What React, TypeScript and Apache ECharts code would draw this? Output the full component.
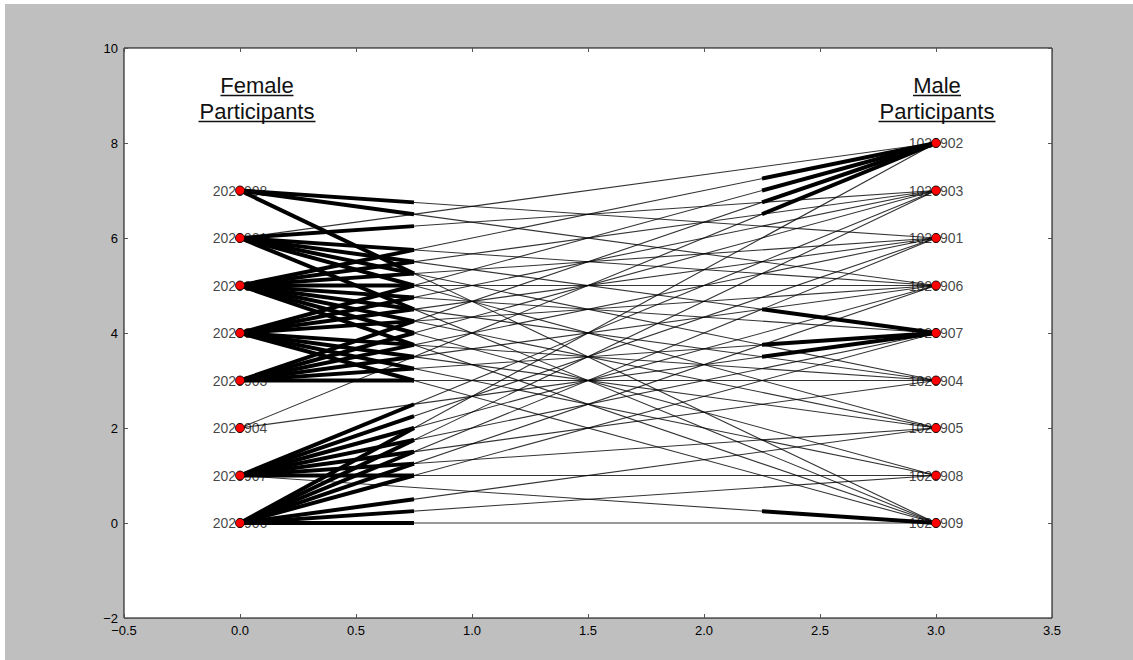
import React, { useEffect, useRef } from "react";
import * as echarts from "echarts";

// Participant ids, indexed by their y position
const femaleIds = ["2020906", "2020907", "2020904", "2020903", "2020905", "2020902", "2020901", "2020908"];
const maleIds = ["1020909", "1020908", "1020905", "1020904", "1020907", "1020906", "1020901", "1020903", "1020902"];

// Edges: [female index, male index, female-side emphasis (1/0), male-side emphasis (1/0)]
const edges: number[][] = [
  [7, 6, 1, 0], [7, 5, 1, 0], [7, 0, 1, 0],
  [6, 8, 0, 0], [6, 7, 1, 0], [6, 5, 1, 0], [6, 4, 1, 1], [6, 3, 1, 0], [6, 2, 1, 0], [6, 0, 1, 0],
  [5, 8, 1, 1], [5, 7, 1, 0], [5, 6, 1, 0], [5, 5, 1, 0], [5, 4, 1, 0], [5, 3, 1, 0], [5, 2, 1, 0], [5, 1, 1, 0], [5, 0, 1, 0],
  [4, 8, 1, 1], [4, 7, 1, 0], [4, 6, 1, 0], [4, 5, 1, 0], [4, 3, 1, 0], [4, 2, 1, 0], [4, 1, 1, 0], [4, 0, 1, 0],
  [3, 8, 1, 1], [3, 7, 1, 0], [3, 6, 1, 0], [3, 5, 1, 0], [3, 4, 1, 1], [3, 3, 1, 0],
  [2, 8, 0, 1], [2, 4, 0, 1],
  [1, 7, 1, 0], [1, 6, 1, 0], [1, 5, 1, 0], [1, 4, 1, 0], [1, 3, 1, 0], [1, 2, 1, 0], [1, 1, 1, 0], [1, 0, 0, 1],
  [0, 8, 1, 0], [0, 7, 1, 0], [0, 6, 1, 0], [0, 5, 1, 0], [0, 4, 1, 0], [0, 2, 1, 0], [0, 1, 1, 0], [0, 0, 1, 0],
];

const femaleX = 0;
const maleX = 3;
const xRange = [-0.5, 3.5];
const yRange = [-2, 10];

const FONT = '"Liberation Sans", Arial, sans-serif';

const minus = (s: string) => s.replace("-", "\u2212");

export default function App() {
  const ref = useRef<HTMLDivElement>(null);

  useEffect(() => {
    const chart = echarts.init(ref.current!, null, { renderer: "svg" });

    const labelData = [
      ...femaleIds.map((id, i) => [femaleX, i, id]),
      ...maleIds.map((id, i) => [maleX, i, id]),
    ];
    const dotData = [
      ...femaleIds.map((_, i) => [femaleX, i]),
      ...maleIds.map((_, i) => [maleX, i]),
    ];

    const tickCommon = { inside: true, length: 4, lineStyle: { color: "#555", width: 1 } };
    const hiddenLine = { show: false, onZero: false };

    const titleText = (x: number, y: number, text: string) => ({
      type: "text",
      x,
      y,
      z: 10,
      style: {
        text,
        fill: "#111",
        font: `22px ${FONT}`,
        align: "center",
        verticalAlign: "middle",
        textAlign: "center",
        textVerticalAlign: "middle",
      },
    });
    const underline = (cx: number, y: number, w: number) => ({
      type: "line",
      z: 10,
      shape: { x1: cx - w / 2, y1: y, x2: cx + w / 2, y2: y },
      style: { stroke: "#111", lineWidth: 1.5 },
    });

    const axisLabelStyle = {
      color: "#000",
      fontSize: 13,
      fontFamily: FONT,
      margin: 6,
      showMinLabel: true,
      showMaxLabel: true,
    };

    chart.setOption({
      animation: false,
      backgroundColor: "#bfbfbf",
      grid: {
        left: 124,
        right: 81,
        top: 48,
        bottom: 42,
        show: true,
        backgroundColor: "#ffffff",
        borderColor: "#000",
        borderWidth: 1,
      },
      xAxis: [
        {
          type: "value",
          min: xRange[0],
          max: xRange[1],
          interval: 0.5,
          axisLine: hiddenLine,
          splitLine: { show: false },
          axisTick: tickCommon,
          axisLabel: { ...axisLabelStyle, formatter: (v: number) => minus(v.toFixed(1)) },
        },
        {
          type: "value",
          position: "top",
          min: xRange[0],
          max: xRange[1],
          interval: 0.5,
          axisLine: hiddenLine,
          splitLine: { show: false },
          axisTick: tickCommon,
          axisLabel: { show: false },
        },
      ],
      yAxis: [
        {
          type: "value",
          position: "left",
          min: yRange[0],
          max: yRange[1],
          interval: 2,
          axisLine: hiddenLine,
          splitLine: { show: false },
          axisTick: tickCommon,
          axisLabel: { ...axisLabelStyle, formatter: (v: number) => minus(String(v)) },
        },
        {
          type: "value",
          position: "right",
          min: yRange[0],
          max: yRange[1],
          interval: 2,
          axisLine: hiddenLine,
          splitLine: { show: false },
          axisTick: tickCommon,
          axisLabel: { show: false },
        },
      ],
      graphic: [
        { type: "rect", left: 0, top: 0, shape: { width: 1133, height: 4 }, style: { fill: "#ffffff" }, silent: true },
        { type: "rect", left: 0, top: 0, shape: { width: 5, height: 660 }, style: { fill: "#ffffff" }, silent: true },
        titleText(257, 85, "Female"),
        underline(257, 95.5, 73),
        titleText(257, 111, "Participants"),
        underline(257, 121.5, 117),
        titleText(937, 85, "Male"),
        underline(937, 95.5, 48),
        titleText(937, 111, "Participants"),
        underline(937, 121.5, 117),
      ],
      series: [
        {
          type: "scatter",
          z: 1,
          symbolSize: 1,
          itemStyle: { color: "rgba(0,0,0,0)" },
          data: labelData,
          label: {
            show: true,
            position: "inside",
            color: "#111",
            fontSize: 14,
            fontFamily: FONT,
            formatter: (p: any) => p.value[2],
          },
          silent: true,
        },
        {
          type: "custom",
          z: 2,
          coordinateSystem: "cartesian2d",
          data: edges,
          silent: true,
          renderItem: (params: any, api: any) => {
            const f = api.value(0);
            const m = api.value(1);
            const ft = api.value(2);
            const mt = api.value(3);
            const p0 = api.coord([femaleX, f]);
            const p1 = api.coord([maleX, m]);
            const span = maleX - femaleX;
            const qa = api.coord([femaleX + span * 0.25, f + (m - f) * 0.25]);
            const qb = api.coord([femaleX + span * 0.75, f + (m - f) * 0.75]);
            const children: any[] = [
              {
                type: "line",
                shape: { x1: p0[0], y1: p0[1], x2: p1[0], y2: p1[1] },
                style: { stroke: "#000", lineWidth: 1.1, opacity: 0.8 },
              },
            ];
            if (ft) {
              children.push({
                type: "line",
                shape: { x1: p0[0], y1: p0[1], x2: qa[0], y2: qa[1] },
                style: { stroke: "#000", lineWidth: 4, lineCap: "butt" },
              });
            }
            if (mt) {
              children.push({
                type: "line",
                shape: { x1: qb[0], y1: qb[1], x2: p1[0], y2: p1[1] },
                style: { stroke: "#000", lineWidth: 4, lineCap: "butt" },
              });
            }
            return { type: "group", children };
          },
        },
        {
          type: "scatter",
          z: 3,
          symbol: "circle",
          symbolSize: 9,
          itemStyle: { color: "#ff0000", borderColor: "#000", borderWidth: 0.8, opacity: 1 },
          data: dotData,
          silent: true,
        },
      ],
    });

    return () => chart.dispose();
  }, []);

  return (
    <div
      ref={ref}
      style={{ position: "fixed", left: 0, top: 0, width: 1133, height: 660 }}
    />
  );
}
